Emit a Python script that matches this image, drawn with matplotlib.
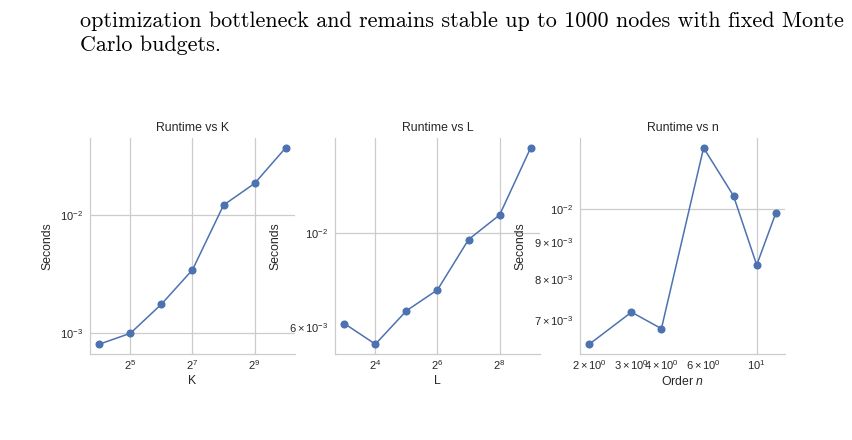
import matplotlib
matplotlib.use("Agg")
import matplotlib.pyplot as plt
import matplotlib.ticker as mticker
import seaborn as sns

sns.set_theme(style="whitegrid")
plt.rcParams['font.family'] = ['Liberation Sans', 'DejaVu Sans']
plt.rcParams['axes.unicode_minus'] = False
plt.rcParams['mathtext.fontset'] = 'custom'
plt.rcParams['mathtext.rm'] = 'Liberation Sans'
plt.rcParams['mathtext.it'] = 'Liberation Sans:italic'
plt.rcParams['mathtext.bf'] = 'Liberation Sans:bold'

# ---- data ----
K_vals = [16, 32, 64, 128, 256, 512, 1024]
K_time = [0.00080, 0.00099, 0.00175, 0.00343, 0.01216, 0.0186, 0.0373]
L_vals = [8, 16, 32, 64, 128, 256, 512]
L_time = [0.00612, 0.00547, 0.00656, 0.00735, 0.00966, 0.01104, 0.0159]
n_vals = [2, 3, 4, 6, 8, 10, 12]
n_time = [0.00649, 0.00719, 0.00682, 0.01216, 0.01043, 0.00836, 0.00986]
K_ticks = [32, 128, 512]
L_ticks = [16, 64, 256]

para_line1 = "optimization bottleneck and remains stable up to 1000 nodes with fixed Monte"
para_line2 = "Carlo budgets."

W, H = 853, 440
fig = plt.figure(figsize=(W / 100, H / 100), dpi=100)
fig.patch.set_facecolor("white")

fig.text(80 / W, 1 - 21 / H, para_line1, family="cmr10", fontsize=15.9,
         va="center", ha="left", color="black")
fig.text(80 / W, 1 - 45 / H, para_line2, family="cmr10", fontsize=15.9,
         va="center", ha="left", color="black")

color = "#4C72B0"
lefts = [90, 335, 580]
panels = [
    (K_vals, K_time, "Runtime vs K", "K", K_ticks),
    (L_vals, L_time, "Runtime vs L", "L", L_ticks),
    (n_vals, n_time, "Runtime vs n", "Order $n$", None),
]
fs = 8.8
tfs = 8.0
for left, (xv, yv, title, xlabel, ticks) in zip(lefts, panels):
    ax = fig.add_axes([left / W, 1 - 354 / H, 205 / W, 216 / H])
    ax.plot(xv, yv, marker="o", color=color, lw=1.1, markersize=4.8)
    ax.set_yscale("log")
    if ticks is not None:
        ax.set_xscale("log", base=2)
        ax.set_xticks(ticks)
        ax.xaxis.set_major_formatter(mticker.LogFormatterSciNotation(base=2))
        ax.xaxis.set_minor_locator(mticker.NullLocator())
    else:
        ax.set_xscale("log")
    ax.set_title(title, fontsize=fs, color=".15", pad=5)
    ax.set_xlabel(xlabel, fontsize=fs, color=".15", labelpad=2)
    ax.set_ylabel("Seconds", fontsize=fs, color=".15", labelpad=5)
    ax.tick_params(axis="x", which="both", labelsize=tfs, colors=".15", length=0, pad=3)
    ax.tick_params(axis="y", which="both", labelsize=tfs, colors=".15", length=0, pad=5)
    ax.grid(True, which="major", color=".8", lw=0.9)
    ax.grid(False, which="minor")
    for s in ["top", "right"]:
        ax.spines[s].set_visible(False)
    for s in ["left", "bottom"]:
        ax.spines[s].set_color(".8")
        ax.spines[s].set_linewidth(0.9)

fig.savefig("out.png", dpi=100, facecolor="white")
